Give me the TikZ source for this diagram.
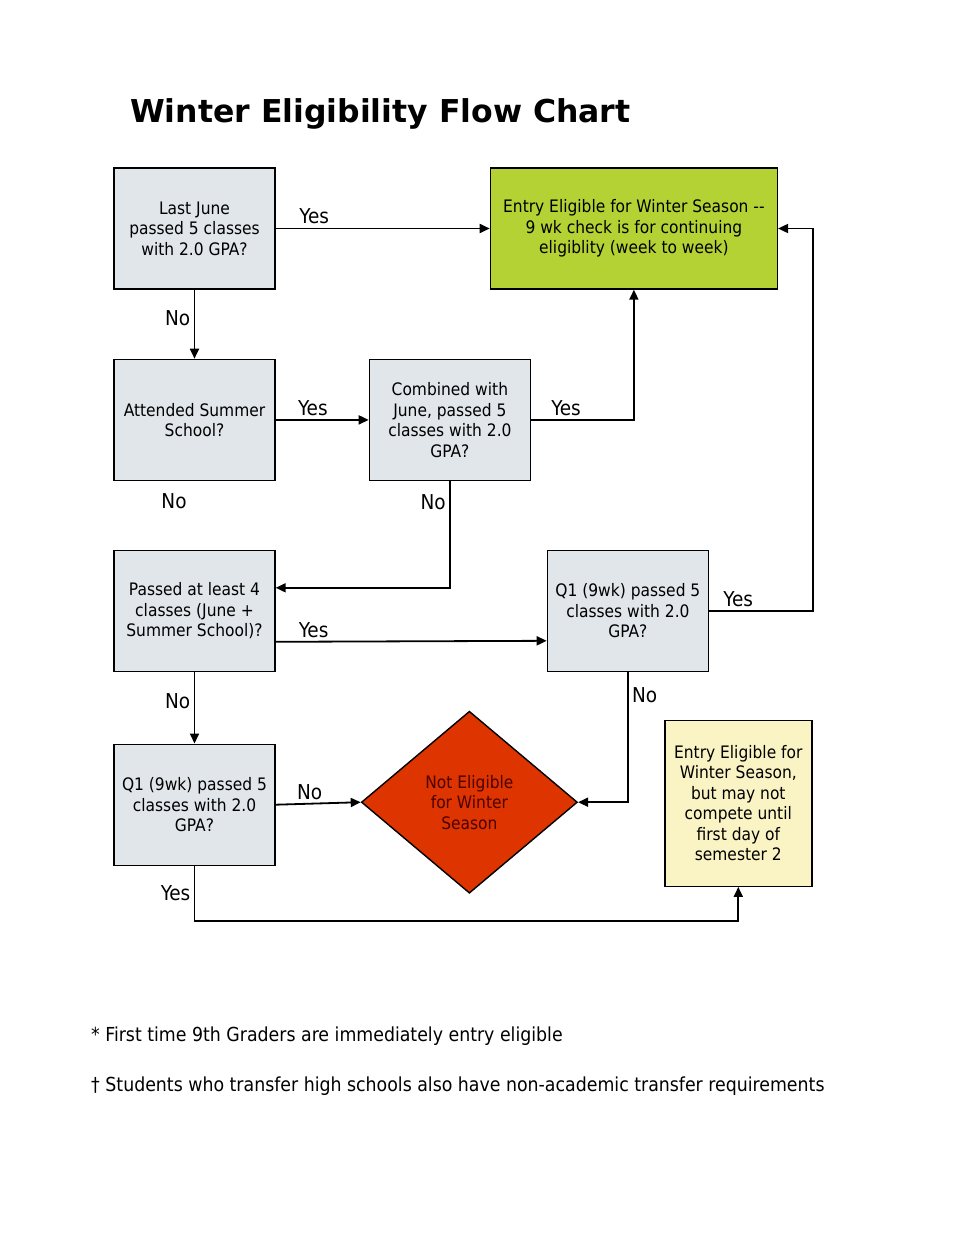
\documentclass[tikz,border=0pt]{standalone}
\usepackage{fontspec}
\setmainfont{DejaVu Sans Condensed}
\newfontfamily\titlefont{DejaVu Sans}
\usetikzlibrary{arrows.meta, positioning, calc, shapes.geometric}

\definecolor{boxgray}{RGB}{225,230,234}
\definecolor{okgreen}{RGB}{181,210,52}
\definecolor{stopred}{RGB}{222,52,0}
\definecolor{stoptext}{RGB}{75,0,0}
\definecolor{waityellow}{RGB}{250,243,195}

\begin{document}
\begin{tikzpicture}[x=1pt,y=-1pt,>={Triangle[length=10pt,width=9pt]},
  line width=1.8pt,
  question/.style={rectangle, draw, line width=1.4pt, fill=boxgray,
    minimum width=161pt, minimum height=121pt, align=center,
    font=\fontsize{17.2}{20.5}\selectfont},
  result/.style={question, fill=okgreen, minimum width=287pt},
  waitbox/.style={question, fill=waityellow, minimum width=147pt, minimum height=166pt},
  stop/.style={diamond, draw, line width=1.4pt, fill=stopred, text=stoptext,
    aspect=1.19, minimum width=216pt, minimum height=182pt, inner sep=0pt,
    align=center, font=\fontsize{17.2}{20.5}\selectfont},
  lbl/.style={font=\fontsize{20.5}{22}\selectfont},
  note/.style={anchor=west, font=\fontsize{19.3}{22}\selectfont}]

\useasboundingbox[fill=white] (0,0) rectangle (960,1242);

% title and notes
\node[anchor=base west, font=\fontsize{31.5}{36}\titlefont\bfseries] (title) at (126,122)
  {Winter Eligibility Flow Chart};
\node[note] (note1) at (87,1036) {* First time 9th Graders are immediately entry eligible};
\node[note] (note2) at (87,1086) {† Students who transfer high schools also have non-academic transfer requirements};

% define the boxes
\node[question] (june) at (194.5,228.5) {Last June\\passed 5 classes\\with 2.0 GPA?};
\node[result] (eligible) [right=214pt of june]
  {Entry Eligible for Winter Season -{}-\\9 wk check is for continuing\\eligiblity (week to week)};
\node[question] (summer) [below=69pt of june] {Attended Summer\\School?};
\node[question] (combined) [right=93pt of summer]
  {Combined with\\June, passed 5\\classes with 2.0\\GPA?};
\node[question] (four) [below=68.5pt of summer]
  {Passed at least 4\\classes (June +\\Summer School)?};
\node[question] (qright) [right=271pt of four] {Q1 (9wk) passed 5\\classes with 2.0\\GPA?};
\node[question] (qleft) [below=71.5pt of four] {Q1 (9wk) passed 5\\classes with 2.0\\GPA?};
\node[stop] (noteligible) [right=85pt of qleft, yshift=2.5pt] {Not Eligible\\for Winter\\Season};
\node[waitbox] (later) [right=86pt of noteligible, yshift=-1pt]
  {Entry Eligible for\\Winter Season,\\but may not\\compete until\\first day of\\semester 2};

\node[lbl] (nosummer) at (174,501) {No};

% define the links
\draw[->] (june) -- node[lbl, pos=0.18, above] (y1) {Yes} (eligible);
\draw[->] (june) -- node[lbl, pos=0.41, left] (n1) {No} (summer);
\draw[->] (summer) -- node[lbl, pos=0.4, above] (y2) {Yes} (combined);
\draw[->] (combined) -| node[lbl, pos=0.17, above] (y3) {Yes} (eligible);
\draw[->] (combined) |- node[lbl, pos=0.1, left] (n2) {No} ($(four.east)+(0,-23)$);
\draw[->] ($(four.east)+(0,31)$) -- node[lbl, pos=0.14, above] (y4) {Yes} ($(qright.west)+(0,30)$);
\draw[->] (qright.east) -- ++(104,0) node[lbl, pos=0.28, above] (y5) {Yes} |- (eligible);
\draw[->] (qright) |- node[lbl, pos=0.09, right] (n3) {No} (noteligible);
\draw[->] (four) -- node[lbl, pos=0.41, left] (n4) {No} (qleft);
\draw[->] (qleft.east) -- node[lbl, pos=0.4, above] (n5) {No} (noteligible.west);
\draw[->] (qleft.south) -- ++(0,55) node[lbl, pos=0.5, left] (y6) {Yes} -| (later);

\end{tikzpicture}
\end{document}
